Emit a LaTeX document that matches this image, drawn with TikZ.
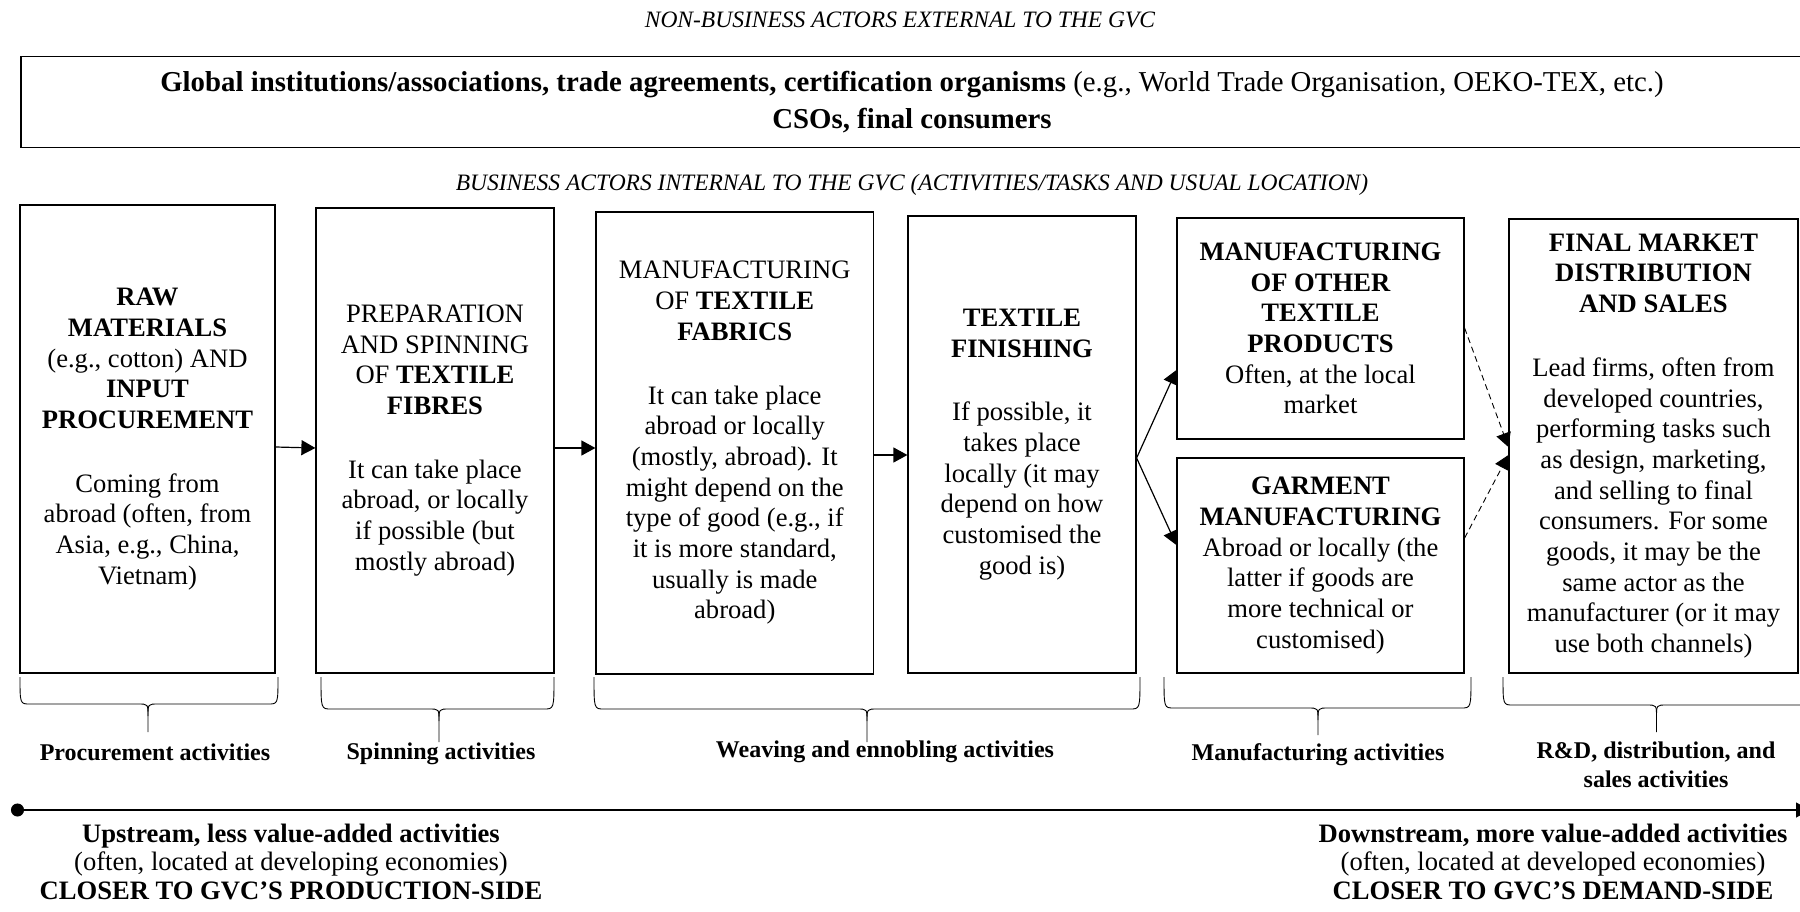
\documentclass[tikz,border=0pt]{standalone}
\usepackage{fontspec}
\setmainfont{Liberation Serif}
\usetikzlibrary{arrows.meta}
\usetikzlibrary{positioning}
\tikzstyle{acteur}=[
        draw,
        line width=1.2pt,
        align=center,
        inner sep=0pt,
        font=\fontsize{26.6}{30.7}\selectfont
]
\tikzstyle{externe}=[
        draw,
        line width=1.2pt,
        align=center,
        inner sep=0pt,
        font=\fontsize{28.8}{37}\selectfont
]
\tikzstyle{titre}=[font=\fontsize{23.5}{28}\selectfont\itshape]
\tikzstyle{legende}=[align=center,font=\fontsize{24}{29}\selectfont\bfseries]
\tikzstyle{bas}=[align=center,font=\fontsize{26.6}{28.5}\selectfont]
\tikzstyle{suite}=[-{Triangle[length=14pt,width=15pt]},line width=1.2pt]
\tikzstyle{pointille}=[suite,line width=0.9pt,dash pattern=on 6pt off 4pt]
\tikzstyle{accolade}=[line width=0.9pt]
\tikzstyle{axe}=[{Circle[length=13pt]}-{Triangle[length=14pt,width=15pt]},line width=1.2pt]

\begin{document}
\begin{tikzpicture}[x=1pt,y=-1pt]
\useasboundingbox (0,0) rectangle (1800,911);
\clip (0,0) rectangle (1800,911);
\node[titre] (nonbiz) at (900,20) {NON-BUSINESS ACTORS EXTERNAL TO THE GVC};
\node[externe, minimum width=1782pt, minimum height=91pt] (externe) at (912,102)
  {\textbf{Global institutions/associations, trade agreements, certification organisms} (e.g., World Trade Organisation, OEKO-TEX, etc.)\\\textbf{CSOs, final consumers}};
\node[titre] (biz) at (912,185) {BUSINESS ACTORS INTERNAL TO THE GVC (ACTIVITIES/TASKS AND USUAL LOCATION)};
\node[acteur, minimum width=255pt, minimum height=468pt] (raw) at (147.5,439)
  {\textbf{RAW}\\\textbf{MATERIALS}\\(e.g., cotton) AND\\\textbf{INPUT}\\\textbf{PROCUREMENT}\\[33pt]Coming from\\abroad (often, from\\Asia, e.g., China,\\Vietnam)};
\node[acteur, minimum width=238pt, minimum height=465pt] (spin) at (435,440.5)
  {PREPARATION\\AND SPINNING\\OF \textbf{TEXTILE}\\\textbf{FIBRES}\\[33pt]It can take place\\abroad, or locally\\if possible (but\\mostly abroad)};
\node[acteur, minimum width=277.5pt, minimum height=462pt] (fabric) at (734.75,443)
  {MANUFACTURING\\OF \textbf{TEXTILE}\\\textbf{FABRICS}\\[33pt]It can take place\\abroad or locally\\(mostly, abroad). It\\might depend on the\\type of good (e.g., if\\it is more standard,\\usually is made\\abroad)};
\node[acteur, minimum width=228pt, minimum height=457pt] (finish) at (1022,444.5)
  {\textbf{TEXTILE}\\\textbf{FINISHING}\\[33pt]If possible, it\\takes place\\locally (it may\\depend on how\\customised the\\good is)};
\node[acteur, minimum width=287pt, minimum height=221pt] (other) at (1320.5,328.5)
  {\textbf{MANUFACTURING}\\\textbf{OF OTHER}\\\textbf{TEXTILE}\\\textbf{PRODUCTS}\\Often, at the local\\market};
\node[acteur, minimum width=287pt, minimum height=215pt] (garment) at (1320.5,565.5)
  {\textbf{GARMENT}\\\textbf{MANUFACTURING}\\Abroad or locally (the\\latter if goods are\\more technical or\\customised)};
\node[acteur, minimum width=289pt, minimum height=454pt] (market) at (1653.5,446)
  {\textbf{FINAL MARKET}\\\textbf{DISTRIBUTION}\\\textbf{AND SALES}\\[33pt]Lead firms, often from\\developed countries,\\performing tasks such\\as design, marketing,\\and selling to final\\consumers. For some\\goods, it may be the\\same actor as the\\manufacturer (or it may\\use both channels)};
%fleches
\draw[suite] ([yshift=-8pt]raw.east) -- ([yshift=-7.5pt]spin.west);
\draw[suite] ([yshift=-7.5pt]spin.east) -- ([yshift=-5pt]fabric.west);
\draw[suite] ([yshift=-12pt]fabric.east) -- ([yshift=-10.5pt]finish.west);
\draw[suite] ([yshift=-13.5pt]finish.east) -- ([yshift=-41.5pt]other.west);
\draw[suite] ([yshift=-13.5pt]finish.east) -- ([yshift=20.5pt]garment.west);
\draw[pointille] ([yshift=0.5pt]other.east) -- ([yshift=-1pt]market.west);
\draw[pointille] ([yshift=27.5pt]garment.east) -- ([yshift=-9pt]market.west);
%accolades
\foreach \xa/\xb/\xt/\yh/\yt in {20/278/148/704/732, 321/554/439/709/742, 594/1140/867/709/742, 1164/1471/1318/708/735, 1503/1810/1656.5/705/732}
{
  \draw[accolade] (\xa,677) .. controls (\xa,\yh) .. ({\xa+10},\yh) -- ({\xt-10},\yh) .. controls (\xt,\yh) .. (\xt,{\yh+12}) -- (\xt,\yt);
  \draw[accolade] (\xb,677) .. controls (\xb,\yh) .. ({\xb-10},\yh) -- ({\xt+10},\yh) .. controls (\xt,\yh) .. (\xt,{\yh+12});
}
\node[legende] (lproc) at (155,752) {Procurement activities};
\node[legende] (lspin) at (441,754) {Spinning activities};
\node[legende] (lweave) at (885,752) {Weaving and ennobling activities};
\node[legende] (lmanu) at (1318,755) {Manufacturing activities};
\node[legende] (lsales) at (1656,764.5) {R\&D, distribution, and\\sales activities};
%axe
\coordinate (axstart) at (11,810);
\coordinate (axend) at (1810,810);
\draw[axe] (axstart) -- (axend);
\node[bas] (upstream) at (291,861.5)
  {\textbf{Upstream, less value-added activities}\\(often, located at developing economies)\\\textbf{CLOSER TO GVC’S PRODUCTION-SIDE}};
\node[bas] (downstream) at (1553,861.5)
  {\textbf{Downstream, more value-added activities}\\(often, located at developed economies)\\\textbf{CLOSER TO GVC’S DEMAND-SIDE}};
\end{tikzpicture}
\end{document}
